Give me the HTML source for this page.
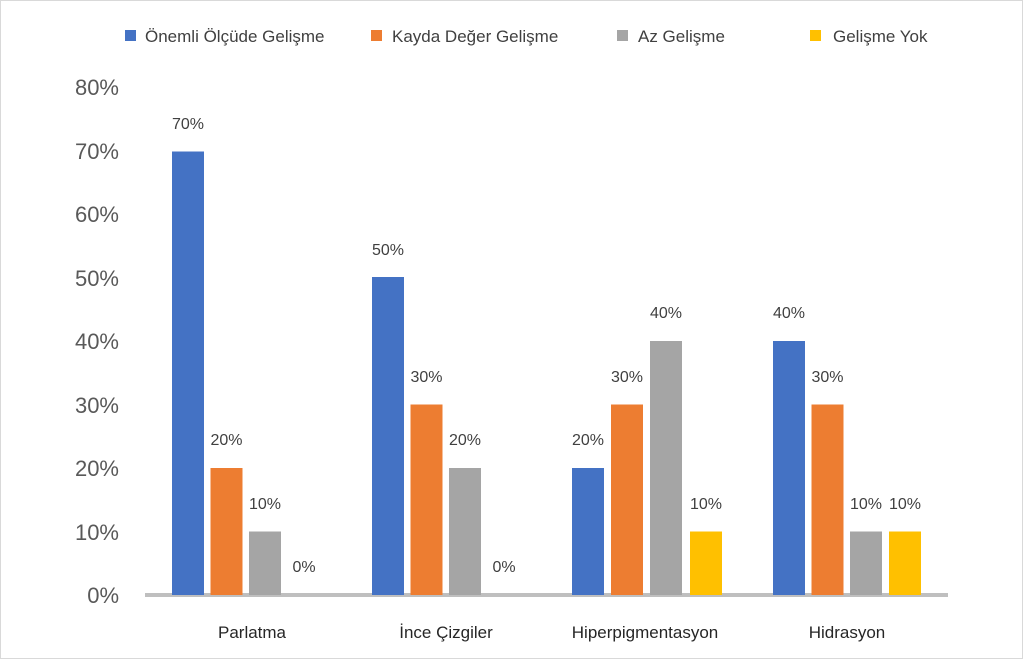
<!DOCTYPE html>
<html><head><meta charset="utf-8"><style>
body{margin:0;background:#fff}
svg{display:block}
text{font-family:"Liberation Sans",sans-serif}
</style></head><body>
<svg width="1024" height="660" viewBox="0 0 1024 660">
<rect x="0.5" y="0.5" width="1022" height="658" fill="#fff" stroke="#d9d9d9"/>
<g font-size="17" fill="#404040">
<rect x="125" y="30" width="11" height="11" fill="#4472c4"/><text x="145" y="42">Önemli Ölçüde Gelişme</text>
<rect x="371" y="30" width="11" height="11" fill="#ed7d31"/><text x="392" y="42">Kayda Değer Gelişme</text>
<rect x="617" y="30" width="11" height="11" fill="#a5a5a5"/><text x="638" y="42">Az Gelişme</text>
<rect x="810" y="30" width="11" height="11" fill="#ffc000"/><text x="833" y="42">Gelişme Yok</text>
</g>
<g font-size="22" fill="#595959" text-anchor="end">
<text x="119" y="603">0%</text><text x="119" y="540">10%</text><text x="119" y="476">20%</text><text x="119" y="413">30%</text><text x="119" y="349">40%</text><text x="119" y="286">50%</text><text x="119" y="222">60%</text><text x="119" y="159">70%</text><text x="119" y="95">80%</text>
</g>
<g id="bars"></g>
<rect x="145" y="593" width="803" height="4" fill="#bfbfbf"/>
<g font-size="17" fill="#262626" text-anchor="middle">
<text x="252" y="638">Parlatma</text><text x="446" y="638">İnce Çizgiler</text><text x="645" y="638">Hiperpigmentasyon</text><text x="847" y="638">Hidrasyon</text>
</g>
<g font-size="16" fill="#404040" text-anchor="middle">
<!-- Parlatma -->
<rect x="172" y="151.5" width="32" height="443.5" fill="#4472c4"/><text x="188" y="129">70%</text>
<rect x="210.5" y="468" width="32" height="127" fill="#ed7d31"/><text x="226.5" y="445">20%</text>
<rect x="249" y="531.5" width="32" height="63.5" fill="#a5a5a5"/><text x="265" y="509">10%</text>
<text x="304" y="572">0%</text>
<!-- Ince -->
<rect x="372" y="277" width="32" height="318" fill="#4472c4"/><text x="388" y="255">50%</text>
<rect x="410.5" y="404.5" width="32" height="190.5" fill="#ed7d31"/><text x="426.5" y="382">30%</text>
<rect x="449" y="468" width="32" height="127" fill="#a5a5a5"/><text x="465" y="445">20%</text>
<text x="504" y="572">0%</text>
<!-- Hiper -->
<rect x="572" y="468" width="32" height="127" fill="#4472c4"/><text x="588" y="445">20%</text>
<rect x="611" y="404.5" width="32" height="190.5" fill="#ed7d31"/><text x="627" y="382">30%</text>
<rect x="650" y="341" width="32" height="254" fill="#a5a5a5"/><text x="666" y="318">40%</text>
<rect x="690" y="531.5" width="32" height="63.5" fill="#ffc000"/><text x="706" y="509">10%</text>
<!-- Hidrasyon -->
<rect x="773" y="341" width="32" height="254" fill="#4472c4"/><text x="789" y="318">40%</text>
<rect x="811.5" y="404.5" width="32" height="190.5" fill="#ed7d31"/><text x="827.5" y="382">30%</text>
<rect x="850" y="531.5" width="32" height="63.5" fill="#a5a5a5"/><text x="866" y="509">10%</text>
<rect x="889" y="531.5" width="32" height="63.5" fill="#ffc000"/><text x="905" y="509">10%</text>
</g>
</svg>
</body></html>
